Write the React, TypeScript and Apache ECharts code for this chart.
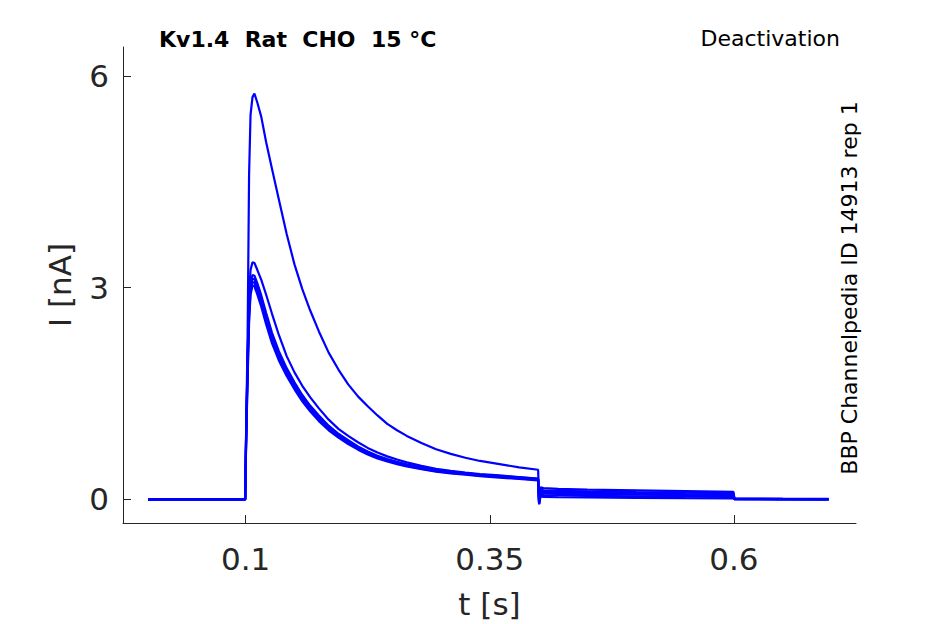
import React, { useEffect, useRef } from "react";
import * as echarts from "echarts";

// time points [s]
const T = [
  0, 0.05, 0.0995, 0.1005, 0.102, 0.1035, 0.105, 0.107, 0.109,
  0.112, 0.116, 0.121, 0.127, 0.134, 0.142, 0.15, 0.158, 0.166, 0.175, 0.185,
  0.195, 0.205, 0.215, 0.225, 0.235, 0.245, 0.255, 0.265, 0.28, 0.295, 0.31,
  0.325, 0.34, 0.36, 0.38, 0.3995,
  0.4005, 0.402, 0.405, 0.42, 0.45, 0.5, 0.55, 0.5995,
  0.6005, 0.65, 0.697,
];

// currents [nA], one array per sweep
const traceA = [
  0, 0, 0, 1.0, 2.3, 4.6, 5.45, 5.7, 5.75,
  5.62, 5.42, 5.06, 4.68, 4.25, 3.76, 3.33, 2.98, 2.68, 2.38, 2.08, 1.84, 1.63,
  1.46, 1.32, 1.19, 1.07, 0.98, 0.9, 0.8, 0.71, 0.645, 0.59, 0.545, 0.5, 0.455,
  0.42,
  -0.04, 0.17, 0.16, 0.15, 0.14, 0.128, 0.117, 0.108,
  0.015, 0.01, 0.008,
];
const traceB = [
  0, 0, 0, 0.9, 2.0, 2.9, 3.25, 3.36, 3.35,
  3.25, 3.11, 2.9, 2.63, 2.33, 2.03, 1.8, 1.61, 1.45, 1.29, 1.13, 1.0, 0.9,
  0.81, 0.73, 0.665, 0.61, 0.565, 0.525, 0.475, 0.435, 0.405, 0.38, 0.36, 0.34,
  0.318, 0.295,
  -0.05, 0.14, 0.13, 0.122, 0.114, 0.104, 0.096, 0.088,
  0.01, 0.006, 0.004,
];
const traceC = [
  0, 0, 0, 0.95, 2.0, 2.8, 3.08, 3.18, 3.17,
  3.06, 2.89, 2.64, 2.36, 2.1, 1.86, 1.66, 1.48, 1.33, 1.19, 1.045, 0.93, 0.84,
  0.75, 0.68, 0.62, 0.572, 0.532, 0.496, 0.455, 0.42, 0.394, 0.373, 0.352,
  0.332, 0.312, 0.29,
  -0.05, 0.115, 0.106, 0.1, 0.093, 0.084, 0.076, 0.07,
  0.008, 0.005, 0.003,
];
const traceD = [
  0, 0, 0, 0.9, 1.9, 2.7, 3.0, 3.13, 3.12,
  3.0, 2.83, 2.58, 2.31, 2.05, 1.82, 1.62, 1.45, 1.3, 1.16, 1.02, 0.91, 0.82,
  0.735, 0.665, 0.605, 0.56, 0.52, 0.485, 0.445, 0.41, 0.385, 0.365, 0.345,
  0.325, 0.305, 0.285,
  -0.06, 0.092, 0.084, 0.079, 0.073, 0.066, 0.06, 0.054,
  0.006, 0.004, 0.002,
];
const traceE = [
  0, 0, 0, 0.85, 1.8, 2.6, 2.95, 3.08, 3.07,
  2.95, 2.78, 2.53, 2.26, 2.01, 1.78, 1.59, 1.42, 1.27, 1.135, 1.0, 0.89, 0.8,
  0.72, 0.652, 0.593, 0.548, 0.51, 0.475, 0.436, 0.402, 0.377, 0.357, 0.338,
  0.318, 0.298, 0.278,
  -0.06, 0.068, 0.06, 0.056, 0.05, 0.045, 0.04, 0.035,
  0.004, 0.002, 0.001,
];
const traceF = [
  0, 0, 0, 0.8, 1.7, 2.5, 2.9, 3.03, 3.02,
  2.9, 2.73, 2.48, 2.21, 1.97, 1.75, 1.56, 1.39, 1.25, 1.11, 0.98, 0.875, 0.785,
  0.705, 0.638, 0.58, 0.537, 0.5, 0.466, 0.427, 0.394, 0.37, 0.35, 0.33, 0.31,
  0.29, 0.27,
  -0.07, 0.044, 0.036, 0.031, 0.027, 0.022, 0.018, 0.015,
  0.002, 0.001, 0,
];

const traces = [traceA, traceB, traceC, traceD, traceE, traceF];

const xTicks = [0.1, 0.35, 0.6];
const yTicks = [0, 3, 6];

const TITLE = "Kv1.4  Rat  CHO  15 °C";
const PROTOCOL = "Deactivation";
const SOURCE = "BBP Channelpedia ID 14913 rep 1";

const FONT = "'DejaVu Sans', sans-serif";
const AXIS_COLOR = "#262626";

export default function App() {
  const ref = useRef<HTMLDivElement>(null);

  useEffect(() => {
    document.body.style.margin = "0";
    if (!ref.current) return;
    const chart = echarts.init(ref.current, null, { renderer: "svg" });

    const series = traces.map((vals) => ({
      type: "line",
      data: T.map((t, i) => [t, vals[i]]),
      showSymbol: false,
      symbol: "none",
      lineStyle: { color: "#0000ff", width: 2.2 },
      silent: true,
    }));

    chart.setOption({
      animation: false,
      backgroundColor: "#ffffff",
      grid: { left: 123, right: 89, top: 47, bottom: 98, containLabel: false },
      xAxis: {
        type: "value",
        min: -0.0256,
        max: 0.725,
        name: "t [s]",
        nameLocation: "middle",
        nameGap: 65,
        nameTextStyle: { fontFamily: FONT, fontSize: 31, color: AXIS_COLOR },
        axisLine: {
          show: true,
          onZero: false,
          lineStyle: { color: AXIS_COLOR, width: 1 },
        },
        axisTick: {
          show: true,
          inside: true,
          length: 8,
          customValues: xTicks,
          lineStyle: { color: AXIS_COLOR, width: 1 },
        },
        axisLabel: {
          customValues: xTicks,
          fontFamily: FONT,
          fontSize: 31,
          color: AXIS_COLOR,
          margin: 20,
          formatter: (v: number) => String(v),
        },
        splitLine: { show: false },
      },
      yAxis: {
        type: "value",
        min: -0.334,
        max: 6.41,
        name: "I [nA]",
        nameLocation: "middle",
        nameGap: 48,
        nameRotate: 90,
        nameTextStyle: { fontFamily: FONT, fontSize: 31, color: AXIS_COLOR },
        axisLine: {
          show: true,
          onZero: false,
          lineStyle: { color: AXIS_COLOR, width: 1 },
        },
        axisTick: {
          show: true,
          inside: true,
          length: 8,
          customValues: yTicks,
          lineStyle: { color: AXIS_COLOR, width: 1 },
        },
        axisLabel: {
          customValues: yTicks,
          fontFamily: FONT,
          fontSize: 31,
          color: AXIS_COLOR,
          margin: 14,
          formatter: (v: number) => String(v),
        },
        splitLine: { show: false },
      },
      graphic: [
        {
          type: "text",
          x: 159,
          y: 39.5,
          style: {
            text: TITLE,
            fontFamily: FONT,
            fontSize: 22,
            fontWeight: "bold",
            fill: "#000000",
            align: "left",
            verticalAlign: "middle",
          },
        },
        {
          type: "text",
          x: 840,
          y: 38.5,
          style: {
            text: PROTOCOL,
            fontFamily: FONT,
            fontSize: 22,
            fill: "#000000",
            align: "right",
            verticalAlign: "middle",
          },
        },
        {
          type: "text",
          x: 849,
          y: 288,
          rotation: Math.PI / 2,
          style: {
            text: SOURCE,
            fontFamily: FONT,
            fontSize: 22,
            fill: "#000000",
            align: "center",
            verticalAlign: "middle",
          },
        },
      ],
      series,
    });

    return () => {
      chart.dispose();
    };
  }, []);

  return <div ref={ref} style={{ width: 945, height: 624 }} />;
}
